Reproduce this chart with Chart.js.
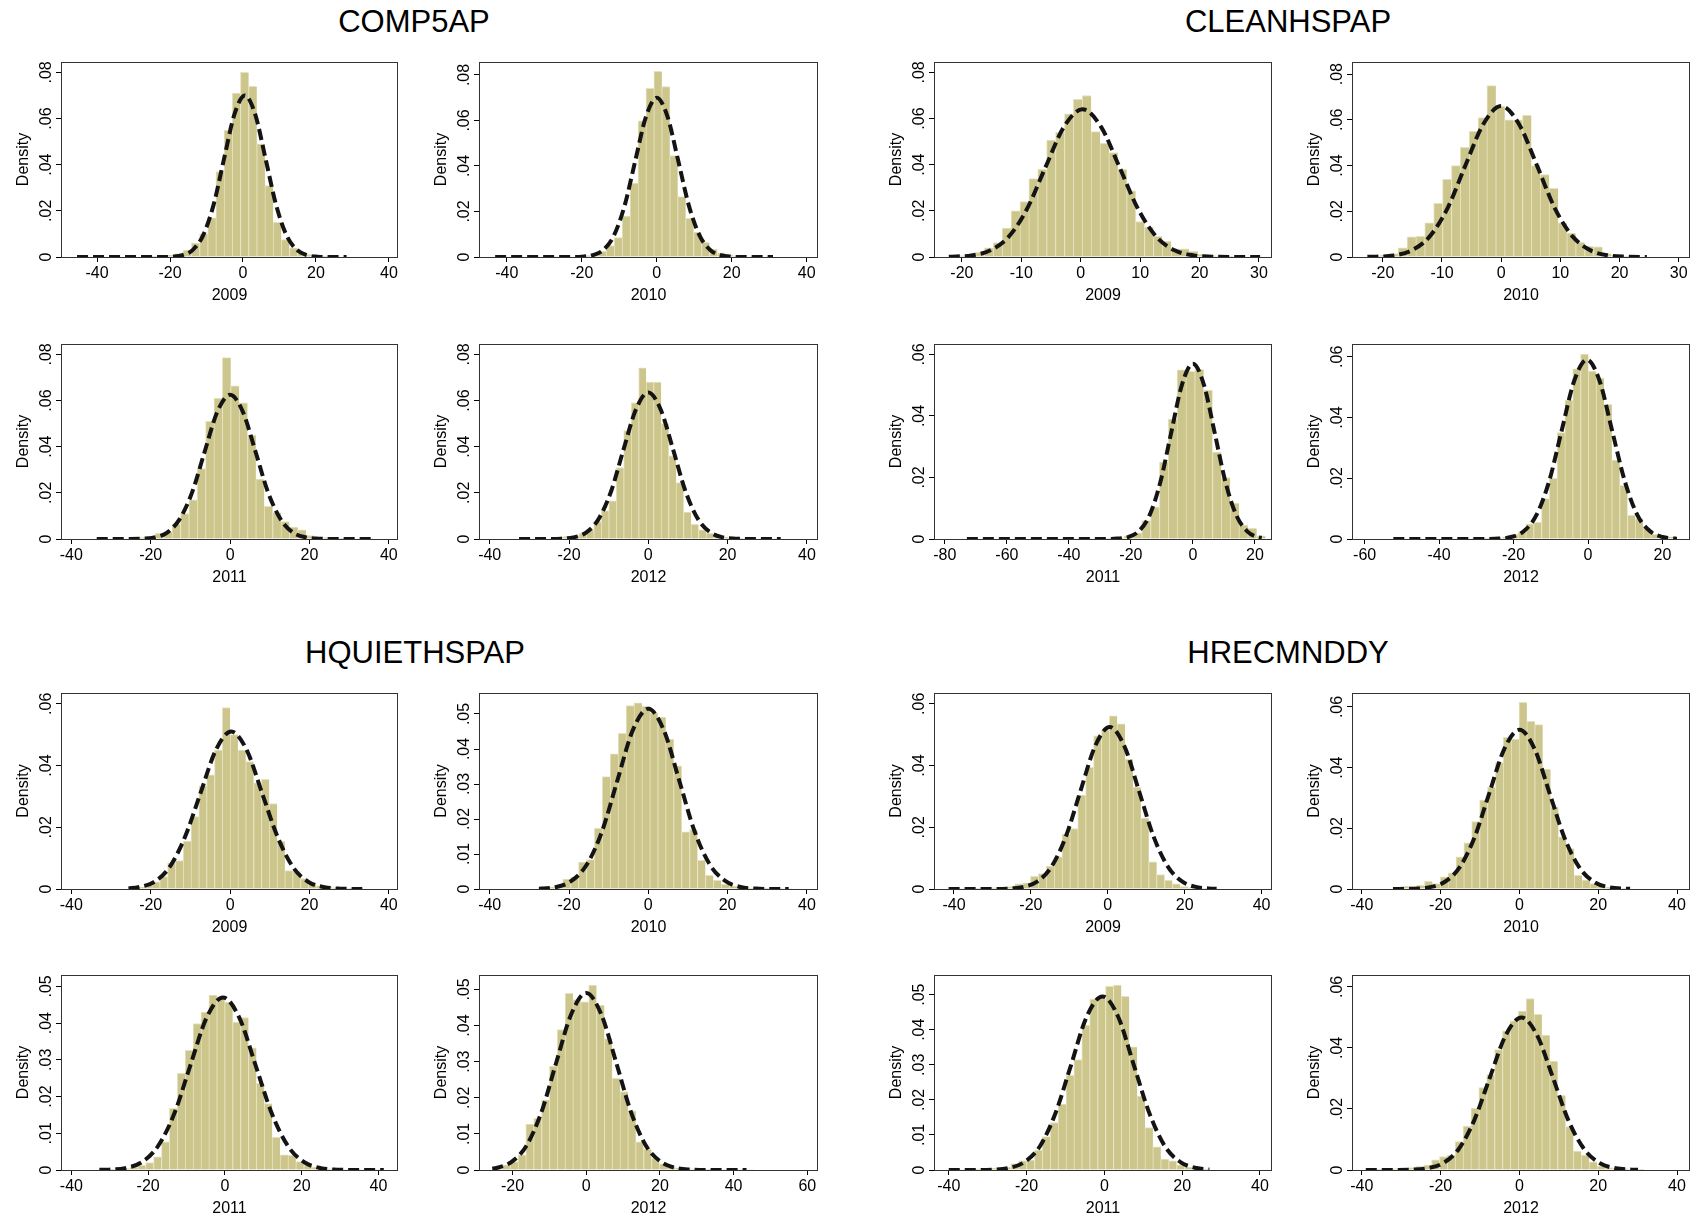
<!DOCTYPE html>
<html>
<head>
<meta charset="utf-8">
<title>Density histograms</title>
<script src="https://cdn.jsdelivr.net/npm/chart.js@4.4.1/dist/chart.umd.min.js"></script>
<style>
  html, body { margin: 0; padding: 0; background: #fff; }
  body { width: 1691px; height: 1218px; position: relative; overflow: hidden;
         font-family: "Liberation Sans", Arial, Helvetica, sans-serif; }
  .title { position: absolute; width: 600px; text-align: center; font-size: 31px; line-height: 36px; color: #000; }
  .panel { position: absolute; }
</style>
</head>
<body>
<div class="title" style="left:114px; top:4px;">COMP5AP</div>
<div class="title" style="left:988px; top:4px;">CLEANHSPAP</div>
<div class="title" style="left:115px; top:635px;">HQUIETHSPAP</div>
<div class="title" style="left:988px; top:635px;">HRECMNDDY</div>

<script>
// ---- data: bin [start, width], bar heights (density), fitted normal curve ----

// COMP5AP
const comp2009Bin = [-45.5, 2.24];
const comp2009Heights = [0, 0, 0, 0, 0, 0.0002, 0, 0.0002, 0.0003, 0.0003, 0.0005, 0.0008, 0.0015, 0.003, 0.006, 0.010, 0.017, 0.037, 0.055, 0.071, 0.080, 0.074, 0.049, 0.031, 0.015, 0.0075, 0.004, 0.002, 0.001, 0.0005, 0.0003, 0.0002, 0.0002];
const comp2009CurveX = [-45.5, -22.3, -19.45, -16.6, -13.75, -10.9, -8.05, -5.2, -2.35, 0.5, 3.35, 6.2, 9.05, 11.9, 14.75, 17.6, 20.45, 23.3, 28.4];
const comp2009CurveY = [0, 0.00002, 0.00015, 0.0008, 0.0031, 0.0095, 0.0227, 0.0425, 0.0618, 0.070, 0.0618, 0.0425, 0.0227, 0.0095, 0.0031, 0.0008, 0.00015, 0.00002, 0];

const comp2010Bin = [-43.1, 2.117];
const comp2010Heights = [0, 0, 0, 0, 0.0001, 0, 0.0001, 0.0001, 0.0002, 0.0002, 0.0003, 0.0006, 0.0012, 0.0025, 0.005, 0.0085, 0.018, 0.0325, 0.0598, 0.0741, 0.0816, 0.0749, 0.0446, 0.0266, 0.017, 0.011, 0.0065, 0.0035, 0.0018, 0.0008, 0.0004, 0.0002, 0.0001, 0, 0.0001];
const comp2010CurveX = [-43.1, -22.8, -19.95, -17.1, -14.25, -11.4, -8.55, -5.7, -2.85, 0, 2.85, 5.7, 8.55, 11.4, 14.25, 17.1, 19.95, 22.8, 31];
const comp2010CurveY = [0, 0.00002, 0.00015, 0.0008, 0.0031, 0.0095, 0.0227, 0.0425, 0.0618, 0.070, 0.0618, 0.0425, 0.0227, 0.0095, 0.0031, 0.0008, 0.00015, 0.00002, 0];

const comp2011Bin = [-33.6, 2.11];
const comp2011Heights = [0.0003, 0.0002, 0.0003, 0.0002, 0.0004, 0.0006, 0.0012, 0.0025, 0.003, 0.0065, 0.011, 0.017, 0.0305, 0.051, 0.061, 0.0786, 0.0664, 0.059, 0.045, 0.026, 0.0142, 0.0115, 0.0075, 0.0052, 0.004, 0.0015, 0.0008, 0.0006, 0.0005, 0.0003, 0.0002, 0.0001, 0.0001];
const comp2011CurveX = [-33.6, -25.5, -22.3, -19.1, -15.95, -12.75, -9.55, -6.4, -3.2, 0, 3.2, 6.4, 9.55, 12.75, 15.95, 19.1, 22.3, 25.5, 36];
const comp2011CurveY = [0, 0.00002, 0.00014, 0.0007, 0.0027, 0.0085, 0.0203, 0.0379, 0.0552, 0.0625, 0.0552, 0.0379, 0.0203, 0.0085, 0.0027, 0.0007, 0.00014, 0.00002, 0];

const comp2012Bin = [-32.6, 1.886];
const comp2012Heights = [0.0002, 0.0001, 0.0002, 0.0002, 0.0003, 0.0007, 0.0012, 0.0015, 0.0025, 0.004, 0.0075, 0.0123, 0.0165, 0.031, 0.047, 0.059, 0.0742, 0.068, 0.068, 0.050, 0.036, 0.0245, 0.0117, 0.0064, 0.004, 0.0025, 0.0012, 0.0008, 0.0005, 0.0003, 0.0002, 0.0001, 0.0001, 0.0001, 0.0001];
const comp2012CurveX = [-32.6, -25.1, -22, -18.85, -15.7, -12.55, -9.4, -6.3, -3.15, 0, 3.15, 6.3, 9.4, 12.55, 15.7, 18.85, 22, 25.1, 33.4];
const comp2012CurveY = [0, 0.00002, 0.00014, 0.0007, 0.0028, 0.0086, 0.0206, 0.0385, 0.056, 0.0635, 0.056, 0.0385, 0.0206, 0.0086, 0.0028, 0.0007, 0.00014, 0.00002, 0];

// CLEANHSPAP
const clean2009Bin = [-22.2, 1.497];
const clean2009Heights = [0.0003, 0.0005, 0.001, 0.002, 0.004, 0.0063, 0.0125, 0.020, 0.024, 0.034, 0.038, 0.0507, 0.054, 0.062, 0.0683, 0.070, 0.0543, 0.0493, 0.0453, 0.038, 0.0287, 0.0154, 0.013, 0.009, 0.0068, 0.0035, 0.0035, 0.0025, 0.0012, 0.0006, 0.0004, 0.0003, 0.0002, 0.0002, 0.0002];
const clean2009CurveX = [-22.2, -18.4, -15.3, -12.15, -9.05, -5.95, -2.8, 0.3, 3.4, 6.55, 9.65, 12.75, 15.9, 19, 22.1, 25.2, 30.2];
const clean2009CurveY = [0.0001, 0.0007, 0.0028, 0.0087, 0.0208, 0.0388, 0.0565, 0.064, 0.0565, 0.0388, 0.0208, 0.0087, 0.0028, 0.0007, 0.00014, 0.00002, 0];

const clean2010Bin = [-21.9, 1.5];
const clean2010Heights = [0.0004, 0.0008, 0.0015, 0.004, 0.0088, 0.009, 0.015, 0.0235, 0.034, 0.040, 0.048, 0.055, 0.061, 0.075, 0.066, 0.060, 0.060, 0.062, 0.040, 0.036, 0.030, 0.015, 0.0105, 0.0064, 0.0047, 0.0044, 0.0015, 0.0008, 0.0004, 0.0003, 0.0002];
const clean2010CurveX = [-22.6, -21.15, -18.1, -15.1, -12.1, -9.05, -6.05, -3, 0, 3, 6.05, 9.05, 12.1, 15.1, 18.1, 21.15, 24.6];
const clean2010CurveY = [0.00006, 0.00015, 0.0007, 0.0029, 0.0089, 0.0214, 0.040, 0.0582, 0.066, 0.0582, 0.040, 0.0214, 0.0089, 0.0029, 0.0007, 0.00015, 0.00002];

const clean2011Bin = [-73.5, 2.85];
const clean2011Heights = [0, 0, 0, 0, 0, 0, 0, 0, 0, 0, 0.0001, 0, 0.0001, 0.0001, 0.0001, 0.0002, 0.0002, 0.0004, 0.001, 0.002, 0.006, 0.0104, 0.025, 0.039, 0.055, 0.0545, 0.0552, 0.0484, 0.0283, 0.020, 0.0117, 0.0045, 0.0035, 0.001];
const clean2011CurveX = [-72.9, -28, -24.5, -21, -17.5, -14, -10.5, -7, -3.5, 0, 3.5, 7, 10.5, 14, 17.5, 21, 22.2];
const clean2011CurveY = [0, 0.00002, 0.00013, 0.0006, 0.0025, 0.0077, 0.0185, 0.0346, 0.0503, 0.057, 0.0503, 0.0346, 0.0185, 0.0077, 0.0025, 0.0006, 0.0004];

const clean2012Bin = [-52.4, 2.1];
const clean2012Heights = [0, 0, 0, 0.0001, 0, 0.0001, 0, 0.0001, 0.0001, 0.0001, 0.0002, 0.0002, 0.0002, 0.0003, 0.0006, 0.0015, 0.0024, 0.005, 0.0055, 0.0133, 0.020, 0.035, 0.0457, 0.056, 0.0609, 0.0553, 0.053, 0.0443, 0.026, 0.0177, 0.0078, 0.0067, 0.0035, 0.0015, 0.0008, 0.0007];
const clean2012CurveX = [-52.3, -27.3, -24, -20.6, -17.2, -13.8, -10.4, -7.05, -3.7, -0.3, 3.1, 6.45, 9.85, 13.2, 16.6, 20, 23.35, 23.9];
const clean2012CurveY = [0, 0.00002, 0.00013, 0.00065, 0.0026, 0.008, 0.0192, 0.0358, 0.0521, 0.059, 0.0521, 0.0358, 0.0192, 0.008, 0.0026, 0.00065, 0.00013, 0.0001];

// HQUIETHSPAP
const quiet2009Bin = [-25.6, 1.97];
const quiet2009Heights = [0.0003, 0.0006, 0.0012, 0.0023, 0.004, 0.0085, 0.0092, 0.0155, 0.0235, 0.0334, 0.037, 0.045, 0.0588, 0.050, 0.045, 0.0413, 0.0344, 0.0355, 0.0277, 0.0155, 0.006, 0.0058, 0.0034, 0.002, 0.001, 0.0008, 0.0004, 0.0003, 0.0002, 0.0002];
const quiet2009CurveX = [-25.6, -23.15, -19.25, -15.35, -11.45, -7.5, -3.6, 0.3, 4.2, 8.1, 12.05, 15.95, 19.85, 23.75, 27.65, 31.6, 33.3];
const quiet2009CurveY = [0.0002, 0.0006, 0.0022, 0.0069, 0.0166, 0.0309, 0.045, 0.051, 0.045, 0.0309, 0.0166, 0.0069, 0.0022, 0.0006, 0.00011, 0.00002, 0];

const quiet2010Bin = [-27.6, 2.0];
const quiet2010Heights = [0.0003, 0.0005, 0.001, 0.0028, 0.0034, 0.0077, 0.0084, 0.0173, 0.0321, 0.0386, 0.0445, 0.0524, 0.0532, 0.0522, 0.0503, 0.0491, 0.0428, 0.0352, 0.0163, 0.017, 0.0082, 0.0039, 0.0025, 0.0013, 0.0008, 0.0005, 0.0003, 0.0002, 0.0002, 0.0001, 0.0001, 0.0001];
const quiet2010CurveX = [-27.6, -27.1, -23.25, -19.4, -15.5, -11.6, -7.75, -3.9, 0, 3.9, 7.75, 11.6, 15.5, 19.4, 23.25, 27.1, 31, 35.4];
const quiet2010CurveY = [0.0001, 0.00011, 0.00057, 0.0023, 0.007, 0.0167, 0.0312, 0.0454, 0.0515, 0.0454, 0.0312, 0.0167, 0.007, 0.0023, 0.00057, 0.00011, 0.00002, 0];

const quiet2011Bin = [-33, 2.06];
const quiet2011Heights = [0.0001, 0.0002, 0.0003, 0.0004, 0.0007, 0.0013, 0.002, 0.0036, 0.0077, 0.0168, 0.0263, 0.0326, 0.0399, 0.043, 0.0476, 0.0472, 0.0457, 0.0403, 0.0415, 0.0333, 0.0236, 0.0181, 0.0089, 0.0041, 0.004, 0.0023, 0.0013, 0.0008, 0.0004, 0.0003, 0.0002, 0.0001, 0.0001, 0.0001, 0.0001, 0.0001];
const quiet2011CurveX = [-32.7, -30.2, -26, -21.7, -17.5, -13.2, -9, -4.75, -0.5, 3.75, 8, 12.25, 16.5, 20.7, 25, 29.2, 33.5, 41.4];
const quiet2011CurveY = [0.00004, 0.0001, 0.00052, 0.0021, 0.0064, 0.0153, 0.0285, 0.0415, 0.047, 0.0415, 0.0285, 0.0153, 0.0064, 0.0021, 0.00052, 0.0001, 0.00001, 0];

const quiet2012Bin = [-24.9, 2.13];
const quiet2012Heights = [0.0006, 0.0014, 0.0023, 0.0042, 0.0127, 0.0143, 0.0194, 0.0288, 0.0389, 0.0489, 0.0472, 0.0466, 0.0512, 0.0457, 0.0364, 0.0254, 0.0217, 0.0164, 0.0078, 0.0057, 0.0032, 0.0017, 0.001, 0.0006, 0.0004, 0.0003, 0.0002, 0.0002, 0.0001, 0.0001, 0.0001, 0.0001, 0.0001];
const quiet2012CurveX = [-25.5, -24.4, -20.35, -16.3, -12.2, -8.15, -4.05, 0, 4.05, 8.15, 12.2, 16.3, 20.35, 24.4, 28.5, 32.55, 43.5];
const quiet2012CurveY = [0.00036, 0.00054, 0.0022, 0.0066, 0.0159, 0.0297, 0.0432, 0.049, 0.0432, 0.0297, 0.0159, 0.0066, 0.0022, 0.00054, 0.00011, 0.00001, 0];

// HRECMNDDY
const recm2009Bin = [-40.6, 2.05];
const recm2009Heights = [0.0001, 0.0001, 0.0002, 0.0002, 0.0003, 0.0004, 0.0006, 0.0008, 0.0017, 0.002, 0.0041, 0.005, 0.0074, 0.0104, 0.0178, 0.0196, 0.0304, 0.0394, 0.0496, 0.0515, 0.0561, 0.0535, 0.042, 0.033, 0.023, 0.0088, 0.0047, 0.0028, 0.0017, 0.0008, 0.0005, 0.0003, 0.0002, 0.0001];
const recm2009CurveX = [-41.4, -29.9, -26.1, -22.3, -18.5, -14.7, -10.9, -7.1, -3.3, 0.5, 4.3, 8.1, 11.9, 15.7, 19.5, 23.3, 27.1, 28.3];
const recm2009CurveY = [0, 0.00002, 0.00012, 0.00058, 0.0023, 0.0071, 0.017, 0.0318, 0.0463, 0.0525, 0.0463, 0.0318, 0.017, 0.0071, 0.0023, 0.00058, 0.00012, 0.00006];

const recm2010Bin = [-32.1, 2.0];
const recm2010Heights = [0.0003, 0.001, 0.0008, 0.0012, 0.0025, 0.0018, 0.004, 0.0053, 0.0106, 0.0152, 0.0222, 0.0293, 0.0335, 0.0417, 0.050, 0.0494, 0.0615, 0.0553, 0.0542, 0.0395, 0.0271, 0.0172, 0.0133, 0.0045, 0.0029, 0.0018, 0.0012, 0.0006, 0.0003, 0.0002];
const recm2010CurveX = [-32.1, -30.4, -26.6, -22.8, -19, -15.2, -11.4, -7.6, -3.8, 0, 3.8, 7.6, 11.4, 15.2, 19, 22.8, 26.6, 28.1];
const recm2010CurveY = [0.00001, 0.00002, 0.00012, 0.00058, 0.0023, 0.0071, 0.017, 0.0318, 0.0463, 0.0525, 0.0463, 0.0318, 0.017, 0.0071, 0.0023, 0.00058, 0.00012, 0.00005];

const recm2011Bin = [-40.3, 2.03];
const recm2011Heights = [0.0001, 0.0001, 0.0002, 0.0003, 0.0004, 0.0005, 0.0006, 0.0008, 0.0018, 0.0026, 0.0028, 0.0057, 0.0095, 0.0135, 0.0188, 0.027, 0.0315, 0.0413, 0.0487, 0.049, 0.0524, 0.0527, 0.0495, 0.0351, 0.0211, 0.0121, 0.0066, 0.0031, 0.0026, 0.0015, 0.0008, 0.0005, 0.0003];
const recm2011CurveX = [-40, -32.75, -28.7, -24.7, -20.65, -16.6, -12.6, -8.55, -4.55, -0.5, 3.55, 7.55, 11.6, 15.6, 19.65, 23.7, 27];
const recm2011CurveY = [0, 0.00001, 0.00011, 0.00055, 0.0022, 0.0067, 0.0161, 0.030, 0.0437, 0.0495, 0.0437, 0.030, 0.0161, 0.0067, 0.0022, 0.00055, 0.00015];

const recm2012Bin = [-38.3, 2.0];
const recm2012Heights = [0.0001, 0.0002, 0.0003, 0.0004, 0.0006, 0.0008, 0.0012, 0.0016, 0.0033, 0.0044, 0.0049, 0.0093, 0.0144, 0.0202, 0.027, 0.0313, 0.0395, 0.0456, 0.0489, 0.0521, 0.0562, 0.051, 0.0442, 0.0357, 0.0245, 0.0142, 0.0062, 0.0049, 0.0027, 0.0013, 0.0008, 0.0006, 0.0004, 0.0003, 0.0002];
const recm2012CurveX = [-39, -31.4, -27.4, -23.45, -19.45, -15.45, -11.5, -7.5, -3.5, 0.5, 4.5, 8.5, 12.45, 16.45, 20.45, 24.45, 28.45, 30.1];
const recm2012CurveY = [0, 0.00002, 0.00011, 0.00056, 0.0022, 0.0068, 0.0162, 0.0303, 0.0441, 0.05, 0.0441, 0.0303, 0.0162, 0.0068, 0.0022, 0.00056, 0.00011, 0.00005];

// ---- layout of the 4x4 grid (plot-region frames, in page pixels) ----
const colLefts = [61, 479, 934, 1352];
const colWidths = [337, 339, 338, 338];
const rowTops = [62, 344, 693, 975];
const rowHeights = [195, 195, 196, 195];

const panels = [
  { bin: comp2009Bin, heights: comp2009Heights, cx: comp2009CurveX, cy: comp2009CurveY, year: '2009', col: 0, row: 0, xMin: -49.9, xMax: 42.5, xStep: 20, yMax: 0.0845, yStep: 0.02 },
  { bin: comp2010Bin, heights: comp2010Heights, cx: comp2010CurveX, cy: comp2010CurveY, year: '2010', col: 1, row: 0, xMin: -47.4, xMax: 43, xStep: 20, yMax: 0.0857, yStep: 0.02 },
  { bin: comp2011Bin, heights: comp2011Heights, cx: comp2011CurveX, cy: comp2011CurveY, year: '2011', col: 0, row: 1, xMin: -42.6, xMax: 42.3, xStep: 20, yMax: 0.0845, yStep: 0.02 },
  { bin: comp2012Bin, heights: comp2012Heights, cx: comp2012CurveX, cy: comp2012CurveY, year: '2012', col: 1, row: 1, xMin: -42.7, xMax: 42.8, xStep: 20, yMax: 0.0845, yStep: 0.02 },

  { bin: clean2009Bin, heights: clean2009Heights, cx: clean2009CurveX, cy: clean2009CurveY, year: '2009', col: 2, row: 0, xMin: -24.7, xMax: 32.2, xStep: 10, yMax: 0.0845, yStep: 0.02 },
  { bin: clean2010Bin, heights: clean2010Heights, cx: clean2010CurveX, cy: clean2010CurveY, year: '2010', col: 3, row: 0, xMin: -25.2, xMax: 31.9, xStep: 10, yMax: 0.0853, yStep: 0.02 },
  { bin: clean2011Bin, heights: clean2011Heights, cx: clean2011CurveX, cy: clean2011CurveY, year: '2011', col: 2, row: 1, xMin: -83.5, xMax: 25.5, xStep: 20, yMax: 0.0634, yStep: 0.02 },
  { bin: clean2012Bin, heights: clean2012Heights, cx: clean2012CurveX, cy: clean2012CurveY, year: '2012', col: 3, row: 1, xMin: -63.4, xMax: 27.4, xStep: 20, yMax: 0.0642, yStep: 0.02 },

  { bin: quiet2009Bin, heights: quiet2009Heights, cx: quiet2009CurveX, cy: quiet2009CurveY, year: '2009', col: 0, row: 2, xMin: -42.6, xMax: 42.3, xStep: 20, yMax: 0.0635, yStep: 0.02 },
  { bin: quiet2010Bin, heights: quiet2010Heights, cx: quiet2010CurveX, cy: quiet2010CurveY, year: '2010', col: 1, row: 2, xMin: -42.7, xMax: 42.8, xStep: 20, yMax: 0.056, yStep: 0.01 },
  { bin: quiet2011Bin, heights: quiet2011Heights, cx: quiet2011CurveX, cy: quiet2011CurveY, year: '2011', col: 0, row: 3, xMin: -42.7, xMax: 45.1, xStep: 20, yMax: 0.0531, yStep: 0.01 },
  { bin: quiet2012Bin, heights: quiet2012Heights, cx: quiet2012CurveX, cy: quiet2012CurveY, year: '2012', col: 1, row: 3, xMin: -29.1, xMax: 62.9, xStep: 20, yMax: 0.054, yStep: 0.01 },

  { bin: recm2009Bin, heights: recm2009Heights, cx: recm2009CurveX, cy: recm2009CurveY, year: '2009', col: 2, row: 2, xMin: -45.2, xMax: 42.7, xStep: 20, yMax: 0.0635, yStep: 0.02 },
  { bin: recm2010Bin, heights: recm2010Heights, cx: recm2010CurveX, cy: recm2010CurveY, year: '2010', col: 3, row: 2, xMin: -42.5, xMax: 43.3, xStep: 20, yMax: 0.0646, yStep: 0.02 },
  { bin: recm2011Bin, heights: recm2011Heights, cx: recm2011CurveX, cy: recm2011CurveY, year: '2011', col: 2, row: 3, xMin: -43.8, xMax: 43.1, xStep: 20, yMax: 0.0556, yStep: 0.01 },
  { bin: recm2012Bin, heights: recm2012Heights, cx: recm2012CurveX, cy: recm2012CurveY, year: '2012', col: 3, row: 3, xMin: -42.5, xMax: 43.3, xStep: 20, yMax: 0.0639, yStep: 0.02 }
];

// sizes of the boxes around each plot region
const Y_AXIS_W = 50;
const X_AXIS_H = 48;
const PAD_TOP = 14;
const PAD_RIGHT = 16;

const FONT = '"Liberation Sans", Arial, Helvetica, sans-serif';
Chart.defaults.font.family = FONT;
Chart.defaults.color = '#000';

// Stata-style density labels: 0, .02, .04 ...
function densityLabel(v) {
    if (Math.abs(v) < 1e-9) return '0';
    return v.toFixed(2).replace(/^0/, '');
}

// thin frame round the plot region
const framePlugin = {
    id: 'frame',
    beforeDatasetsDraw(chart) {
        const a = chart.chartArea;
        const ctx = chart.ctx;
        ctx.save();
        ctx.strokeStyle = '#333';
        ctx.lineWidth = 1;
        ctx.strokeRect(Math.round(a.left) + 0.5, Math.round(a.top) + 0.5,
                       Math.round(a.right - a.left) - 1, Math.round(a.bottom - a.top));
        ctx.restore();
    }
};

function drawPanel(p) {
    const frameW = colWidths[p.col];
    const frameH = rowHeights[p.row];
    const canvas = document.createElement('canvas');
    canvas.className = 'panel';
    canvas.width = frameW + Y_AXIS_W + PAD_RIGHT;
    canvas.height = frameH + PAD_TOP + X_AXIS_H;
    canvas.style.left = (colLefts[p.col] - Y_AXIS_W) + 'px';
    canvas.style.top = (rowTops[p.row] - PAD_TOP) + 'px';
    document.body.appendChild(canvas);

    // histogram bars sit at the middle of each bin
    const bars = p.heights.map((h, i) => ({ x: p.bin[0] + p.bin[1] * (i + 0.5), y: h }));
    const curve = p.cx.map((x, i) => ({ x: x, y: p.cy[i] }));

    new Chart(canvas, {
        type: 'bar',
        data: {
            datasets: [
                {
                    type: 'line',
                    data: curve,
                    borderColor: '#141414',
                    borderWidth: 4,
                    borderDash: [11, 5],
                    pointRadius: 0,
                    cubicInterpolationMode: 'monotone',
                    fill: false,
                    order: 1
                },
                {
                    type: 'bar',
                    data: bars,
                    backgroundColor: 'rgb(205, 198, 140)',
                    borderColor: 'rgb(230, 226, 190)',
                    borderWidth: { top: 1, left: 1, right: 0, bottom: 0 },
                    borderSkipped: 'start',
                    barPercentage: 1,
                    categoryPercentage: 1,
                    order: 2
                }
            ]
        },
        options: {
            responsive: false,
            animation: false,
            events: [],
            layout: { padding: { left: 0, top: PAD_TOP, right: PAD_RIGHT, bottom: 0 } },
            plugins: { legend: { display: false }, tooltip: { enabled: false } },
            scales: {
                x: {
                    type: 'linear',
                    min: p.xMin,
                    max: p.xMax,
                    offset: false,
                    grid: { display: true, drawOnChartArea: false, drawTicks: true, tickLength: 5, color: '#000', offset: false },
                    border: { display: false },
                    ticks: {
                        stepSize: p.xStep, includeBounds: false, autoSkip: false,
                        maxRotation: 0, padding: 2, color: '#000',
                        font: { size: 16, family: FONT },
                        callback: v => String(v)
                    },
                    title: { display: true, text: p.year, color: '#000', font: { size: 16, family: FONT }, padding: { top: 0, bottom: 0 } },
                    afterFit: s => { s.height = X_AXIS_H; }
                },
                y: {
                    min: 0,
                    max: p.yMax,
                    grid: { display: true, drawOnChartArea: false, drawTicks: true, tickLength: 5, color: '#000' },
                    border: { display: false },
                    ticks: {
                        stepSize: p.yStep, includeBounds: false, autoSkip: false,
                        minRotation: 90, maxRotation: 90, crossAlign: 'center', padding: -2,
                        color: '#000', font: { size: 16, family: FONT },
                        callback: densityLabel
                    },
                    title: { display: true, text: 'Density', color: '#000', font: { size: 16, family: FONT }, padding: { top: 3, bottom: 0 } },
                    afterFit: s => { s.width = Y_AXIS_W; }
                }
            }
        },
        plugins: [framePlugin]
    });
}

panels.forEach(drawPanel);
</script>
</body>
</html>
